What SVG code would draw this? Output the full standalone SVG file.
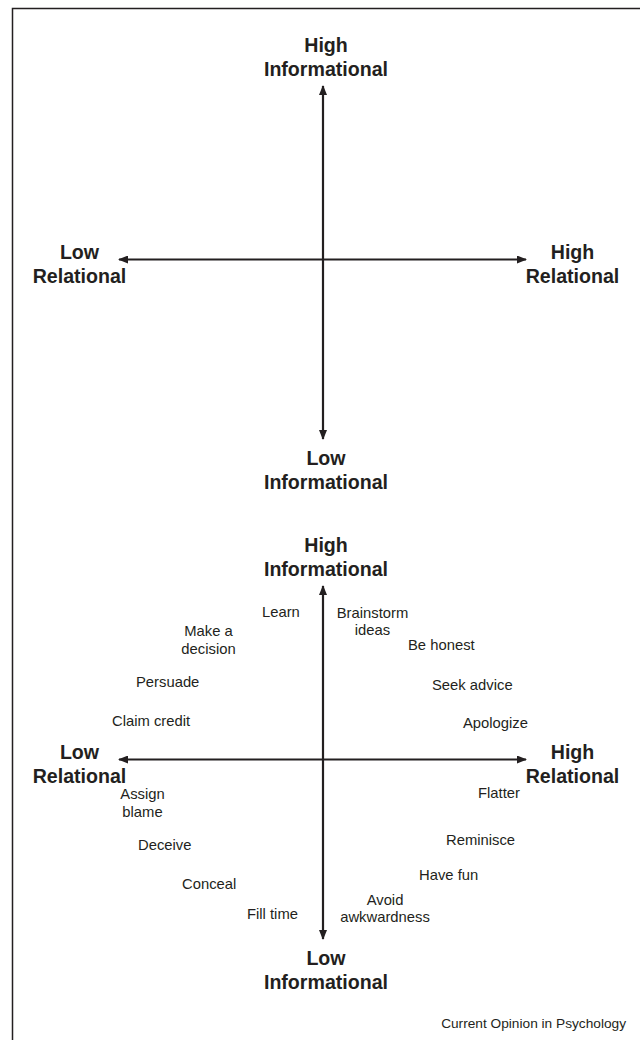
<svg xmlns="http://www.w3.org/2000/svg" width="640" height="1040" viewBox="0 0 640 1040">
  <style>
    .axis { fill: none; stroke: #231f20; stroke-width: 2.2; marker-start: url(#head); marker-end: url(#head); }
    .frame { fill: none; stroke: #231f20; stroke-width: 1.5; }
    .pole { font-family: "Liberation Sans", Arial, sans-serif; font-weight: bold; font-size: 19.6px; fill: #231f20; text-anchor: middle; }
    .goal { font-family: "Liberation Sans", Arial, sans-serif; font-size: 14.8px; fill: #231f20; }
    .mid { text-anchor: middle; }
    .credit { font-family: "Liberation Sans", Arial, sans-serif; font-size: 13.7px; fill: #231f20; text-anchor: end; }
  </style>
  <defs>
    <marker id="head" viewBox="0 0 10 8" refX="9" refY="4" markerWidth="10" markerHeight="8" markerUnits="userSpaceOnUse" orient="auto-start-reverse">
      <path d="M0,0 L10,4 L0,8 Z" fill="#231f20"/>
    </marker>
  </defs>

  <rect width="640" height="1040" fill="#ffffff"/>

  <!-- frame: top and left edges only -->
  <path class="frame" d="M12.5,1040 V8.5 H640"/>

  <!-- axes of both panels -->
  <g id="connectors">
    <line class="axis" x1="323" y1="86" x2="323" y2="439"/>
    <line class="axis" x1="119" y1="259.5" x2="526" y2="259.5"/>
    <line class="axis" x1="323" y1="586" x2="323" y2="939"/>
    <line class="axis" x1="119" y1="759.5" x2="526" y2="759.5"/>
  </g>

  <!-- upper panel: axis poles -->
  <g id="top-high-informational">
    <text class="pole" x="326" y="52">High</text>
    <text class="pole" x="326" y="76">Informational</text>
  </g>
  <g id="top-low-relational">
    <text class="pole" x="79.5" y="259">Low</text>
    <text class="pole" x="79.5" y="283">Relational</text>
  </g>
  <g id="top-high-relational">
    <text class="pole" x="572.5" y="259">High</text>
    <text class="pole" x="572.5" y="283">Relational</text>
  </g>
  <g id="top-low-informational">
    <text class="pole" x="326" y="465">Low</text>
    <text class="pole" x="326" y="489">Informational</text>
  </g>

  <!-- lower panel: axis poles -->
  <g id="bottom-high-informational">
    <text class="pole" x="326" y="552">High</text>
    <text class="pole" x="326" y="576">Informational</text>
  </g>
  <g id="bottom-low-relational">
    <text class="pole" x="79.5" y="759">Low</text>
    <text class="pole" x="79.5" y="783">Relational</text>
  </g>
  <g id="bottom-high-relational">
    <text class="pole" x="572.5" y="759">High</text>
    <text class="pole" x="572.5" y="783">Relational</text>
  </g>
  <g id="bottom-low-informational">
    <text class="pole" x="326" y="965">Low</text>
    <text class="pole" x="326" y="989">Informational</text>
  </g>

  <!-- lower panel: conversational goals -->
  <g id="learn"><text class="goal" x="262" y="617">Learn</text></g>
  <g id="make-a-decision">
    <text class="goal mid" x="208.5" y="636">Make a</text>
    <text class="goal mid" x="208.5" y="654">decision</text>
  </g>
  <g id="brainstorm-ideas">
    <text class="goal mid" x="372.5" y="618">Brainstorm</text>
    <text class="goal mid" x="372.5" y="635">ideas</text>
  </g>
  <g id="be-honest"><text class="goal" x="408" y="650">Be honest</text></g>
  <g id="persuade"><text class="goal" x="136" y="687">Persuade</text></g>
  <g id="seek-advice"><text class="goal" x="432" y="690">Seek advice</text></g>
  <g id="claim-credit"><text class="goal" x="112" y="726">Claim credit</text></g>
  <g id="apologize"><text class="goal" x="463" y="728">Apologize</text></g>
  <g id="assign-blame">
    <text class="goal mid" x="142.5" y="799">Assign</text>
    <text class="goal mid" x="142.5" y="817">blame</text>
  </g>
  <g id="flatter"><text class="goal" x="478" y="798">Flatter</text></g>
  <g id="reminisce"><text class="goal" x="446" y="845">Reminisce</text></g>
  <g id="deceive"><text class="goal" x="138" y="850">Deceive</text></g>
  <g id="have-fun"><text class="goal" x="419" y="880">Have fun</text></g>
  <g id="conceal"><text class="goal" x="182" y="889">Conceal</text></g>
  <g id="avoid-awkwardness">
    <text class="goal mid" x="385" y="905">Avoid</text>
    <text class="goal mid" x="385" y="922">awkwardness</text>
  </g>
  <g id="fill-time"><text class="goal" x="247" y="919">Fill time</text></g>

  <text class="credit" x="626" y="1028">Current Opinion in Psychology</text>
</svg>
